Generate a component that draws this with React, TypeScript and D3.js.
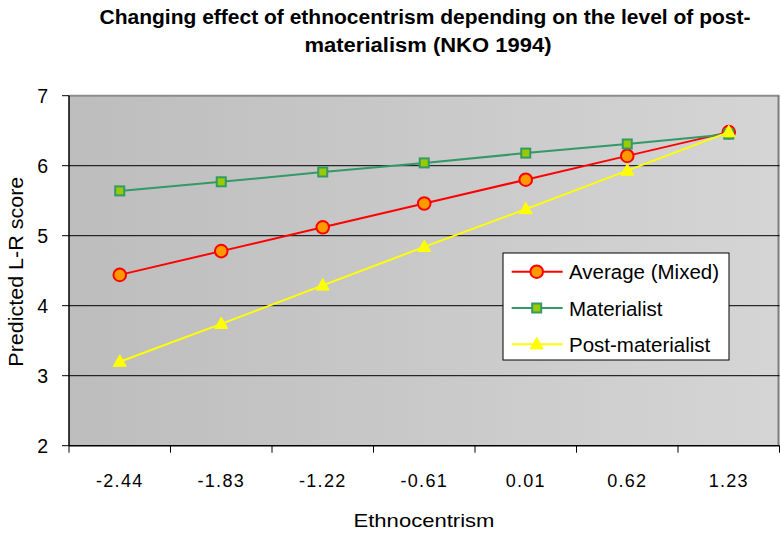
import React from "react";
import * as d3 from "d3";

// Ethnocentrism levels on the x axis
const categories = ["-2.44", "-1.83", "-1.22", "-0.61", "0.01", "0.62", "1.23"];

// Predicted left-right scores per group
const averageMixed = [4.44, 4.78, 5.12, 5.46, 5.8, 6.14, 6.48];
const materialist = [5.64, 5.77, 5.91, 6.04, 6.18, 6.31, 6.45];
const postMaterialist = [3.2, 3.74, 4.29, 4.84, 5.38, 5.93, 6.48];

const yTicks = [2, 3, 4, 5, 6, 7];
const gridValues = [3, 4, 5, 6];

const titleLines = [
  "Changing effect of ethnocentrism depending on the level of post-",
  "materialism (NKO 1994)",
];

type Marker = "circle" | "square" | "triangle";
const series: { name: string; values: number[]; line: string; fill: string; stroke: string; marker: Marker }[] = [
  { name: "Average (Mixed)", values: averageMixed, line: "#ff0000", fill: "#ff9900", stroke: "#ff0000", marker: "circle" },
  { name: "Materialist", values: materialist, line: "#339966", fill: "#99cc00", stroke: "#339966", marker: "square" },
  { name: "Post-materialist", values: postMaterialist, line: "#ffff00", fill: "#ffff00", stroke: "#ffff00", marker: "triangle" },
];

const W = 780;
const H = 534;
const plot = { left: 69, right: 779.5, top: 95.7, bottom: 445.7 };
const FONT = "Arial, 'Liberation Sans', sans-serif";

function MarkerShape({ kind, x, y, fill, stroke }: { kind: Marker; x: number; y: number; fill: string; stroke: string }) {
  if (kind === "circle") {
    return <circle cx={x} cy={y} r={6.3} fill={fill} stroke={stroke} strokeWidth={2} />;
  }
  if (kind === "square") {
    return <rect x={x - 4.5} y={y - 4.5} width={9} height={9} fill={fill} stroke={stroke} strokeWidth={2} />;
  }
  const s = 13;
  const h = 11.5;
  return (
    <path
      d={`M${x},${y - h * 0.6} L${x + s / 2},${y + h * 0.4} L${x - s / 2},${y + h * 0.4} Z`}
      fill={fill}
      stroke={stroke}
      strokeWidth={1}
    />
  );
}

export default function App() {
  const x = d3.scaleBand<string>().domain(categories).range([plot.left, plot.right]).padding(0);
  const y = d3.scaleLinear().domain([2, 7]).range([plot.bottom, plot.top]);
  const cx = (c: string) => (x(c) as number) + x.bandwidth() / 2;

  const line = d3
    .line<number>()
    .x((_, i) => cx(categories[i]))
    .y((v) => y(v));

  const boundaries = [...categories.map((c) => x(c) as number), plot.right];

  const legend = { x: 503, y: 253, w: 226, h: 107 };

  return (
    <svg width={W} height={H} style={{ position: "absolute", left: 0, top: 0 }} fontFamily={FONT}>
      <defs>
        <linearGradient id="plotBg" x1="0" x2="1" y1="0" y2="0">
          <stop offset="0" stopColor="#bdbdbd" />
          <stop offset="1" stopColor="#d5d5d5" />
        </linearGradient>
      </defs>
      <rect width={W} height={H} fill="#ffffff" />

      {/* title */}
      <text x={425} y={24} textAnchor="middle" fontSize={20} fontWeight="bold" textLength={651} lengthAdjust="spacingAndGlyphs">
        {titleLines[0]}
      </text>
      <text x={428} y={52} textAnchor="middle" fontSize={20} fontWeight="bold" textLength={247} lengthAdjust="spacingAndGlyphs">
        {titleLines[1]}
      </text>

      {/* plot area */}
      <rect
        x={plot.left}
        y={plot.top}
        width={plot.right - plot.left}
        height={plot.bottom - plot.top}
        fill="url(#plotBg)"
      />
      <line x1={plot.left} x2={plot.right} y1={plot.top} y2={plot.top} stroke="#8c8c8c" strokeWidth={2} />
      <line x1={plot.right - 1} x2={plot.right - 1} y1={plot.top} y2={plot.bottom} stroke="#808080" strokeWidth={2} />

      {gridValues.map((v) => (
        <line key={v} x1={plot.left} x2={plot.right} y1={y(v)} y2={y(v)} stroke="#000" strokeWidth={1} />
      ))}

      {/* axes */}
      <line x1={plot.left} x2={plot.left} y1={plot.top} y2={plot.bottom} stroke="#000" strokeWidth={1.5} />
      <line x1={plot.left} x2={plot.right} y1={plot.bottom} y2={plot.bottom} stroke="#000" strokeWidth={1.5} />

      {yTicks.map((t) => (
        <g key={t}>
          <line x1={plot.left - 7} x2={plot.left} y1={y(t)} y2={y(t)} stroke="#000" strokeWidth={1} />
          <text x={48} y={y(t) + 7} textAnchor="end" fontSize={19.5}>
            {t}
          </text>
        </g>
      ))}

      {boundaries.map((b, i) => (
        <line key={i} x1={b} x2={b} y1={plot.bottom} y2={plot.bottom + 7} stroke="#000" strokeWidth={1} />
      ))}
      {categories.map((c) => (
        <text key={c} x={cx(c)} y={486.5} textAnchor="middle" fontSize={18} letterSpacing={1.3}>
          {c}
        </text>
      ))}

      <text x={424} y={527} textAnchor="middle" fontSize={19} textLength={141} lengthAdjust="spacingAndGlyphs">
        Ethnocentrism
      </text>
      <text
        transform={`translate(23,271.7) rotate(-90)`}
        textAnchor="middle"
        fontSize={19.5}
        textLength={190}
        lengthAdjust="spacingAndGlyphs"
      >
        Predicted L-R score
      </text>

      {/* series */}
      {series.map((s) => (
        <g key={s.name}>
          <path d={line(s.values) || ""} fill="none" stroke={s.line} strokeWidth={2} />
          {s.values.map((v, i) => (
            <MarkerShape key={i} kind={s.marker} x={cx(categories[i])} y={y(v)} fill={s.fill} stroke={s.stroke} />
          ))}
        </g>
      ))}

      {/* legend */}
      <rect x={legend.x} y={legend.y} width={legend.w} height={legend.h} fill="#fff" stroke="#000" strokeWidth={1} />
      {series.map((s, i) => {
        const ly = 271.7 + i * 36.3;
        return (
          <g key={s.name}>
            <line x1={511.7} x2={562.7} y1={ly} y2={ly} stroke={s.line} strokeWidth={2} />
            <MarkerShape kind={s.marker} x={536.7} y={ly} fill={s.fill} stroke={s.stroke} />
            <text x={569} y={ly + 7.5} fontSize={20.5}>
              {s.name}
            </text>
          </g>
        );
      })}
    </svg>
  );
}
